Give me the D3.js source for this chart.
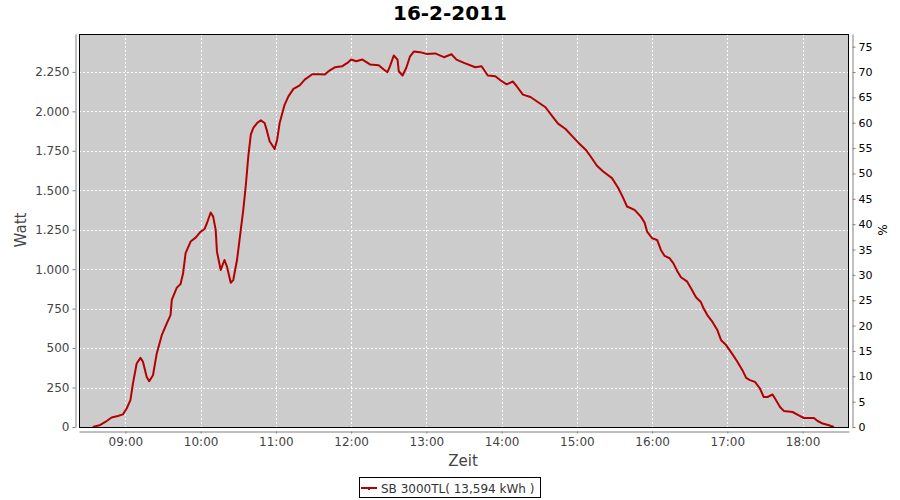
<!DOCTYPE html>
<html><head><meta charset="utf-8">
<script src="https://cdn.jsdelivr.net/npm/d3@7"></script>
<style>
html,body{margin:0;padding:0;background:#fff;}
svg{display:block;}
</style>
</head><body>
<svg id="chart" width="900" height="500"></svg>
<script>
const chartTitle = "16-2-2011";
const seriesName = "SB 3000TL( 13,594 kWh )";
const times = ["08:34","08:40","08:44","08:49","08:54","08:58","09:01","09:04","09:06","09:09","09:12","09:14","09:17","09:19","09:22","09:25","09:29","09:33","09:36","09:37","09:41","09:44","09:46","09:48","09:52","09:56","10:00","10:03","10:05","10:08","10:10","10:12","10:13","10:16","10:19","10:21","10:24","10:26","10:29","10:32","10:34","10:36","10:38","10:40","10:42","10:45","10:48","10:51","10:53","10:55","10:59","11:01","11:03","11:07","11:10","11:14","11:19","11:23","11:29","11:35","11:39","11:43","11:47","11:53","11:57","12:00","12:04","12:09","12:15","12:22","12:26","12:29","12:31","12:34","12:37","12:38","12:41","12:44","12:47","12:50","12:55","13:00","13:07","13:14","13:20","13:24","13:30","13:39","13:44","13:49","13:55","13:59","14:04","14:09","14:12","14:17","14:23","14:30","14:35","14:40","14:45","14:51","14:57","15:01","15:07","15:11","15:16","15:21","15:28","15:33","15:37","15:40","15:46","15:51","15:54","15:56","16:00","16:04","16:07","16:10","16:14","16:17","16:20","16:23","16:28","16:31","16:35","16:39","16:41","16:44","16:48","16:52","16:55","16:59","17:04","17:08","17:12","17:15","17:18","17:22","17:26","17:29","17:32","17:36","17:38","17:42","17:45","17:52","17:57","18:01","18:09","18:12","18:16","18:21","18:25"];
const watts = [0,13,32,60,70,80,117,170,275,402,438,413,317,290,328,466,582,656,709,805,883,906,974,1101,1175,1200,1238,1253,1291,1359,1333,1249,1111,995,1058,1016,914,931,1058,1249,1376,1530,1714,1852,1895,1926,1943,1926,1873,1810,1761,1820,1926,2043,2095,2142,2165,2201,2235,2235,2233,2260,2279,2286,2307,2328,2317,2328,2297,2292,2265,2248,2286,2354,2328,2254,2227,2276,2349,2379,2375,2364,2367,2343,2362,2328,2307,2279,2286,2227,2222,2197,2171,2189,2159,2106,2091,2053,2026,1973,1922,1888,1837,1803,1757,1714,1655,1619,1577,1514,1450,1397,1376,1333,1295,1238,1196,1185,1122,1084,1069,1037,989,949,921,879,822,790,752,709,667,614,550,519,462,413,360,311,297,286,244,190,190,206,180,127,102,95,74,57,57,38,22,11,0];
const timeTicks = ["09:00","10:00","11:00","12:00","13:00","14:00","15:00","16:00","17:00","18:00"];
const wattTicks = [0,250,500,750,1000,1250,1500,1750,2000,2250];
const pctTicks = [0,5,10,15,20,25,30,35,40,45,50,55,60,65,70,75];
const timeRange = ["08:23","18:37"];
const wattMax = 2490;
const pctMax = 77.5;

const svg = d3.select("#chart");
const plot = {left: 79, right: 849, top: 34, bottom: 427};
const font = "'DejaVu Sans', Verdana, sans-serif";

const parseT = d3.timeParse("%Y-%m-%d %H:%M");
const toDate = s => parseT("2011-02-16 " + s);
const data = times.map((t, i) => ({t: toDate(t), v: watts[i]}));

const x = d3.scaleTime().domain(timeRange.map(toDate)).range([plot.left, plot.right]);
const y = d3.scaleLinear().domain([0, wattMax]).range([plot.bottom, plot.top]);
const y2 = d3.scaleLinear().domain([0, pctMax]).range([plot.bottom, plot.top]);

const de = d3.formatLocale({decimal: ",", thousands: ".", grouping: [3], currency: ["", " €"]});
const fmtW = de.format(",d");

svg.append("rect").attr("x", plot.left).attr("y", plot.top)
  .attr("width", plot.right - plot.left).attr("height", plot.bottom - plot.top)
  .attr("fill", "#cccccc");

const grid = svg.append("g").attr("stroke", "#ffffff").attr("stroke-width", 1).attr("stroke-dasharray", "2,2");
grid.selectAll("line.h").data(wattTicks.filter(d => d > 0)).join("line")
  .attr("x1", plot.left).attr("x2", plot.right)
  .attr("y1", d => Math.round(y(d)) + 0.5).attr("y2", d => Math.round(y(d)) + 0.5);
grid.selectAll("line.v").data(timeTicks.map(toDate)).join("line")
  .attr("y1", plot.top).attr("y2", plot.bottom)
  .attr("x1", d => Math.round(x(d)) + 0.5).attr("x2", d => Math.round(x(d)) + 0.5);

const line = d3.line().x(d => x(d.t)).y(d => y(d.v)).curve(d3.curveLinear);
svg.append("path").datum(data).attr("d", line)
  .attr("fill", "none").attr("stroke", "#b40000").attr("stroke-width", 2)
  .attr("stroke-linejoin", "round");

svg.append("rect").attr("x", plot.left + 0.5).attr("y", plot.top + 0.5)
  .attr("width", plot.right - plot.left - 1).attr("height", plot.bottom - plot.top)
  .attr("fill", "none").attr("stroke", "#000").attr("stroke-width", 1);

function styleAxis(g, color, size) {
  g.select(".domain").attr("stroke", "#808080");
  g.selectAll(".tick line").attr("stroke", "#808080");
  g.selectAll(".tick text").attr("fill", color).style("font-family", font).style("font-size", size + "px");
}

const gL = svg.append("g").attr("transform", "translate(75.5,0)")
  .call(d3.axisLeft(y).tickValues(wattTicks).tickFormat(fmtW).tickSize(3).tickSizeOuter(0).tickPadding(3));
styleAxis(gL, "#444444", 12);

const gR = svg.append("g").attr("transform", "translate(852.5,0)")
  .call(d3.axisRight(y2).tickValues(pctTicks).tickSize(3).tickSizeOuter(0).tickPadding(3));
styleAxis(gR, "#000000", 11);

const gB = svg.append("g").attr("transform", "translate(0,431.5)")
  .call(d3.axisBottom(x).tickValues(timeTicks.map(toDate)).tickFormat(d3.timeFormat("%H:%M")).tickSize(2).tickSizeOuter(0).tickPadding(4));
styleAxis(gB, "#444444", 12);

svg.append("text").attr("x", 450).attr("y", 20).attr("text-anchor", "middle")
  .style("font-family", font).style("font-weight", "bold").style("font-size", "20px")
  .attr("fill", "#000").text(chartTitle);

svg.append("text").attr("transform", "translate(26,230) rotate(-90)").attr("text-anchor", "middle")
  .style("font-family", font).style("font-size", "15px").attr("fill", "#444444").text("Watt");
svg.append("text").attr("transform", "translate(878,230) rotate(90)").attr("text-anchor", "middle")
  .style("font-family", font).style("font-size", "12px").attr("fill", "#000").text("%");
svg.append("text").attr("x", 463).attr("y", 466).attr("text-anchor", "middle")
  .style("font-family", font).style("font-size", "15px").attr("fill", "#444444").text("Zeit");

const lg = svg.append("g");
lg.append("rect").attr("x", 359.5).attr("y", 477.5).attr("width", 181).attr("height", 20)
  .attr("fill", "#fff").attr("stroke", "#000");
lg.append("line").attr("x1", 361).attr("x2", 377).attr("y1", 488).attr("y2", 488)
  .attr("stroke", "#b40000").attr("stroke-width", 2);
lg.append("rect").attr("x", 368).attr("y", 488).attr("width", 2).attr("height", 2).attr("fill", "#b40000");
lg.append("text").attr("x", 381).attr("y", 492.5)
  .style("font-family", font).style("font-size", "12px").attr("fill", "#333").text(seriesName);
</script>
</body></html>
